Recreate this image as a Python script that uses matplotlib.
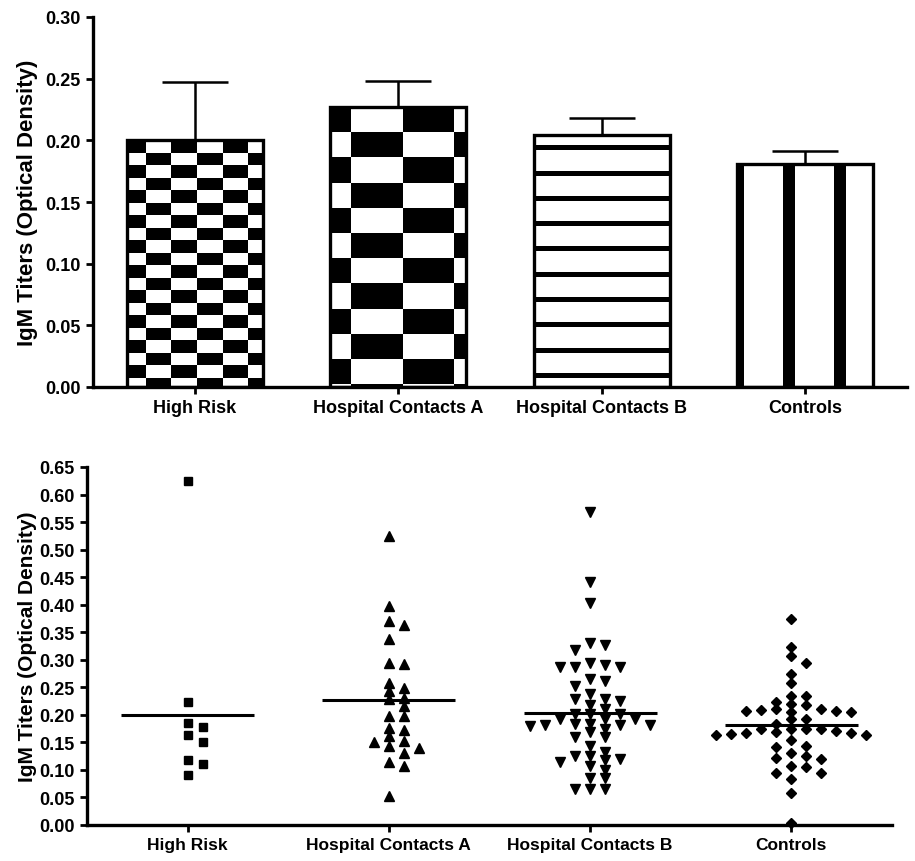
import numpy as np
import matplotlib
matplotlib.use("Agg")
import matplotlib.pyplot as plt
from matplotlib.patches import Rectangle
from matplotlib.collections import PatchCollection

plt.rcParams['font.family'] = ['Liberation Sans', 'DejaVu Sans']
plt.rcParams['font.weight'] = 'bold'

# ---------------- data ----------------
groups = ["High Risk", "Hospital Contacts A", "Hospital Contacts B", "Controls"]
bar_means = [0.200, 0.227, 0.204, 0.181]
bar_sem = [0.047, 0.021, 0.014, 0.010]

high_risk = [0.625, 0.224, 0.186, 0.178, 0.163, 0.151, 0.118, 0.111, 0.090]
contacts_a = [0.524, 0.398, 0.370, 0.364, 0.338, 0.294, 0.292, 0.258, 0.248,
              0.244, 0.231, 0.228, 0.216, 0.198, 0.197, 0.177, 0.173, 0.162,
              0.153, 0.150, 0.144, 0.140, 0.131, 0.115, 0.108, 0.052]
contacts_b = [0.569, 0.441, 0.403,
              0.330, 0.317, 0.327,
              0.291, 0.286, 0.286, 0.286, 0.294,
              0.265, 0.252, 0.262,
              0.238, 0.229, 0.226, 0.229,
              0.217, 0.211,
              0.202, 0.202, 0.202,
              0.192, 0.192, 0.192,
              0.183, 0.181, 0.179, 0.181, 0.181, 0.183,
              0.174, 0.169,
              0.159, 0.159,
              0.144, 0.132, 0.126, 0.126,
              0.118, 0.115, 0.120,
              0.108, 0.099, 0.085, 0.085,
              0.065, 0.065, 0.065]
controls = [0.374, 0.324, 0.306, 0.295, 0.274, 0.257,
            0.234, 0.234,
            0.220, 0.217, 0.224,
            0.207, 0.206, 0.210, 0.208, 0.210, 0.206, 0.207,
            0.192, 0.192, 0.183,
            0.175, 0.174, 0.174, 0.175,
            0.169, 0.171,
            0.167, 0.164, 0.163, 0.165, 0.167,
            0.154, 0.144, 0.141, 0.131,
            0.126, 0.120, 0.122,
            0.106, 0.107,
            0.094, 0.095, 0.084, 0.058, 0.003]
scatter_sets = [high_risk, contacts_a, contacts_b, controls]
markers = ['s', '^', 'v', 'D']
msizes = [6.0, 6.8, 6.8, 4.7]

top_ticks = np.arange(0, 0.301, 0.05)
bot_ticks = np.arange(0, 0.651, 0.05)

# ---------------- figure ----------------
W, H = 915, 862
fig = plt.figure(figsize=(W / 100, H / 100), dpi=100)

ax1 = fig.add_axes([93 / W, 1 - 388 / H, (907 - 93) / W, 370 / H])
ax2 = fig.add_axes([87 / W, 1 - 826 / H, (892 - 87) / W, 358 / H])

x = np.arange(len(groups))
bw = 0.667

for ax in (ax1, ax2):
    for s in ('top', 'right'):
        ax.spines[s].set_visible(False)
    for s in ('left', 'bottom'):
        ax.spines[s].set_linewidth(2.4)
    ax.set_xlim(-0.5, 3.5)
    ax.set_xticks(x)
    ax.tick_params(axis='both', width=2.0, length=5, direction='out', pad=4)
    ax.set_ylabel("IgM Titers (Optical Density)", fontweight='bold')

# ---------- top: bar chart with patterns ----------
ax1.set_ylim(0, 0.30)
ax1.set_yticks(top_ticks)
ax1.set_yticklabels([f"{v:.2f}" for v in top_ticks], fontsize=13, fontweight='bold')
ax1.set_xticklabels(groups, fontsize=13, fontweight='bold')
ax1.yaxis.label.set_size(16)
ax1.yaxis.set_label_coords(-0.068, 0.5)

fig.canvas.draw()
bb = ax1.get_window_extent()
PXX = 4.0 / bb.width
PXY = 0.30 / bb.height

bars = ax1.bar(x, bar_means, bw, color='white', edgecolor='none', zorder=1)


def checker(bar, cw_px, ch_px, off_px):
    xl, w, h = bar.get_x(), bar.get_width(), bar.get_height()
    cw, ch = cw_px * PXX, ch_px * PXY
    x_start = xl + off_px * PXX - cw
    rects = []
    ncol = int(np.ceil((xl + w - x_start) / cw)) + 1
    nrow = int(np.ceil(h / ch)) + 1
    for i in range(ncol):
        for j in range(nrow):
            if (i + j) % 2 == 0:
                rects.append(Rectangle((x_start + i * cw, h - (j + 1) * ch), cw, ch))
    pc = PatchCollection(rects, facecolor='black', edgecolor='none', zorder=2)
    ax1.add_collection(pc)
    pc.set_clip_path(bar)


def hlines_pat(bar, first_px, step_px, thick_px):
    xl, w, h = bar.get_x(), bar.get_width(), bar.get_height()
    rects = []
    yc = h - first_px * PXY
    while yc > 0:
        rects.append(Rectangle((xl, yc - thick_px * PXY / 2), w, thick_px * PXY))
        yc -= step_px * PXY
    pc = PatchCollection(rects, facecolor='black', edgecolor='none', zorder=2)
    ax1.add_collection(pc)
    pc.set_clip_path(bar)


def vstripes(bar, off_px, step_px, thick_px):
    xl, w, h = bar.get_x(), bar.get_width(), bar.get_height()
    rects = []
    xs = xl + off_px * PXX
    while xs < xl + w:
        rects.append(Rectangle((xs, 0), thick_px * PXX, h))
        xs += step_px * PXX
    pc = PatchCollection(rects, facecolor='black', edgecolor='none', zorder=2)
    ax1.add_collection(pc)
    pc.set_clip_path(bar)


checker(bars[0], 25.6, 12.5, 19)
checker(bars[1], 51.5, 25.2, 21)
hlines_pat(bars[2], 12.3, 25.3, 5)
vstripes(bars[3], -5, 51, 12)

ax1.bar(x, bar_means, bw, fill=False, edgecolor='black', linewidth=2.4, zorder=3)
ax1.errorbar(x, bar_means, yerr=[np.zeros(len(x)), bar_sem], fmt='none',
             ecolor='black', elinewidth=1.8, capsize=24, capthick=1.8, zorder=0)

# ---------- bottom: column scatter ----------
ax2.set_ylim(0, 0.65)
ax2.set_yticks(bot_ticks)
ax2.set_yticklabels([f"{v:.2f}" for v in bot_ticks], fontsize=13, fontweight='bold')
ax2.set_xticklabels(groups, fontsize=12.5, fontweight='bold')
ax2.yaxis.label.set_size(15)
ax2.yaxis.set_label_coords(-0.062, 0.5)

bb2 = ax2.get_window_extent()
PX2X = 4.0 / bb2.width
PX2Y = 0.65 / bb2.height
step = 15 * PX2X
thr = 7.5 * PX2Y

for gi, vals in enumerate(scatter_sets):
    order = np.argsort(vals)[::-1]
    placed = []
    xs = np.zeros(len(vals))
    for idx in order:
        v = vals[idx]
        for k in [0, 1, -1, 2, -2, 3, -3, 4, -4, 5, -5, 6, -6]:
            if all(not (kk == k and abs(v - vv) < thr) for kk, vv in placed):
                placed.append((k, v))
                xs[idx] = gi + k * step
                break
    ax2.plot(xs, vals, linestyle='none', marker=markers[gi], ms=msizes[gi],
             color='black', zorder=2, clip_on=False)
    ax2.hlines(bar_means[gi], gi - 0.33, gi + 0.33, color='black', lw=2.2, zorder=3)

fig.savefig("out.png", dpi=100)
